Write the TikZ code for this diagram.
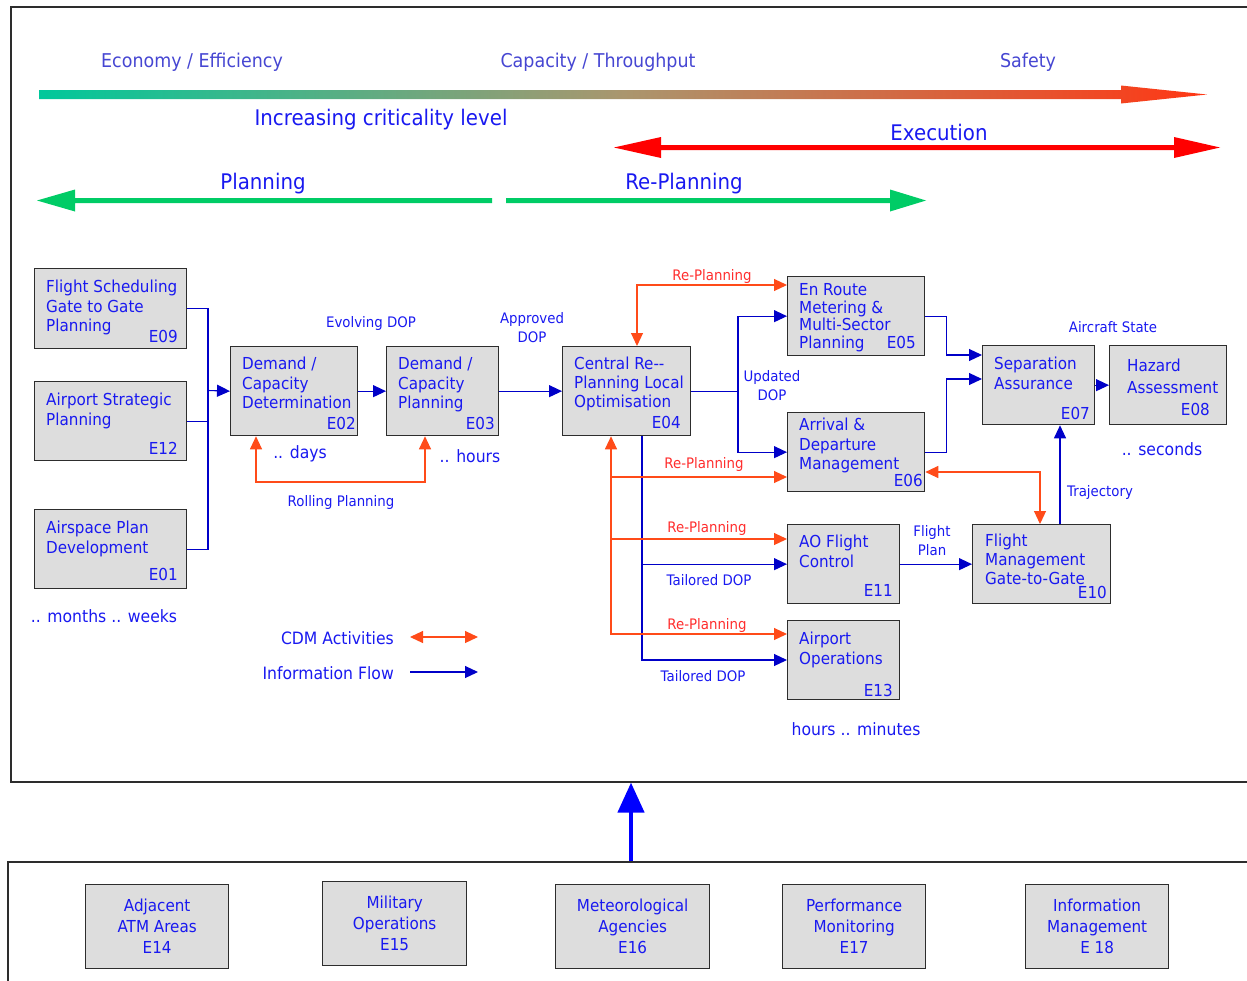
\documentclass[tikz,border=0pt]{standalone}
\usepackage{fontspec}
\setmainfont{DejaVu Sans}[FakeStretch=0.92]
\usetikzlibrary{arrows.meta,calc}

\definecolor{txtblue}{RGB}{25,25,240}
\definecolor{lineblue}{RGB}{0,0,200}
\definecolor{bigblue}{RGB}{0,0,255}
\definecolor{cdmorange}{RGB}{255,75,25}
\definecolor{rpred}{RGB}{255,45,45}
\definecolor{slate}{RGB}{70,70,210}
\definecolor{boxgray}{RGB}{221,221,221}
\definecolor{framegray}{RGB}{45,45,45}
\definecolor{plgreen}{RGB}{0,204,102}
\definecolor{exred}{RGB}{255,0,0}
\definecolor{critA}{RGB}{0,200,155}
\definecolor{critB}{RGB}{170,150,110}
\definecolor{critC}{RGB}{255,55,20}

% the central half of a declared shading is what fills the path
\pgfdeclarehorizontalshading{crit}{100bp}{color(0bp)=(critA); color(25bp)=(critA); color(50bp)=(critB); color(75bp)=(critC); color(100bp)=(critC)}

\newcommand\ebox[5]{\node[ebox, minimum width=#4pt, minimum height=#5pt] (#1) at (#2,#3) {};}

\tikzset{
  ebox/.style={draw=framegray, line width=1.3pt, fill=boxgray, inner sep=0pt, anchor=north west},
  bbox/.style={draw=framegray, line width=1.3pt, fill=boxgray, inner sep=0pt, anchor=north west,
    align=center, text=txtblue, font=\fontsize{16.5}{21}\selectfont},
  btxt/.style={text=txtblue, font=\fontsize{16.5}{19.6}\selectfont, align=left, inner sep=0pt, anchor=north west},
  bid/.style={text=txtblue, font=\fontsize{16.5}{19.6}\selectfont, inner sep=0pt, anchor=base east},
  lbl/.style={text=txtblue, font=\fontsize{14.5}{19}\selectfont, align=center, inner sep=0pt},
  rplbl/.style={text=rpred, font=\fontsize{14.5}{19}\selectfont, inner sep=0pt},
  tlbl/.style={text=txtblue, font=\fontsize{17}{20}\selectfont, inner sep=0pt},
  hlbl/.style={text=slate, font=\fontsize{19}{22}\selectfont, inner sep=0pt},
  blbl/.style={text=txtblue, font=\fontsize{21.5}{24}\selectfont, inner sep=0pt},
  infoline/.style={draw=lineblue, line width=1.1pt},
  info/.style={infoline, -{Triangle[length=13pt,width=12pt]}},
  cdmline/.style={draw=cdmorange, line width=1.1pt},
  cdm/.style={cdmline, -{Triangle[length=13pt,width=12pt]}},
  cdmboth/.style={cdmline, {Triangle[length=13pt,width=12pt]}-{Triangle[length=13pt,width=12pt]}},
  frame/.style={draw=framegray, line width=1.6pt, inner sep=0pt, anchor=north west},
}

\begin{document}
\begin{tikzpicture}[x=1pt,y=-1pt]
\useasboundingbox (0,0) rectangle (1247,980);

% outer frames
\node[frame, minimum width=1270pt, minimum height=775pt] (topframe) at (10,6) {};
\node[frame, minimum width=1270pt, minimum height=140pt] (botframe) at (7,861) {};

% criticality scale
\node[hlbl] (econ) at (192,62) {Economy / Efficiency};
\node[hlbl] (capa) at (598,62) {Capacity / Throughput};
\node[hlbl] (safe) at (1028,62) {Safety};
\shade[shading=crit] (39,90) -- (1121,90) -- (1121,85.5) -- (1207,94.5) -- (1121,103.5) -- (1121,99) -- (39,99) -- cycle;
\node[blbl] (crit) at (381,120) {Increasing criticality level};

% phase arrows
\fill[exred] (614,147.5) -- (661,137) -- (661,145) -- (1174,145) -- (1174,137) -- (1220,147.5)
  -- (1174,158) -- (1174,150) -- (661,150) -- (661,158) -- cycle;
\node[blbl] (exec) at (939,132) {Execution};
\fill[plgreen] (37,200.5) -- (75,189.5) -- (75,198) -- (492,198) -- (492,203) -- (75,203) -- (75,211.5) -- cycle;
\node[blbl] (plan) at (263,184) {Planning};
\fill[plgreen] (506,198) -- (890,198) -- (890,189.5) -- (926,200.5) -- (890,211.5) -- (890,203) -- (506,203) -- cycle;
\node[blbl] (replan) at (684,184) {Re-Planning};

% entity boxes
\ebox{e09}{34}{268}{152}{80}
\ebox{e12}{34}{381}{152}{79}
\ebox{e01}{34}{509}{152}{79}
\ebox{e02}{230}{346}{127}{89}
\ebox{e03}{386}{346}{112}{89}
\ebox{e04}{562}{346}{128}{89}
\ebox{e05}{787}{276}{137}{79}
\ebox{e06}{787}{412}{137}{79}
\ebox{e07}{982}{345}{112}{79}
\ebox{e08}{1109}{345}{117}{79}
\ebox{e11}{787}{524}{112}{79}
\ebox{e10}{972}{524}{138}{79}
\ebox{e13}{787}{620}{112}{79}

\node[btxt] (t09) at (46,280) {Flight Scheduling\\Gate to Gate\\Planning};
\node[bid] (i09) at (178,342) {E09};
\node[btxt] (t12) at (46,393) {Airport Strategic\\Planning};
\node[bid] (i12) at (178,454) {E12};
\node[btxt] (t01) at (46,521) {Airspace Plan\\Development};
\node[bid] (i01) at (178,580) {E01};
\node[btxt] (t02) at (242,357) {Demand /\\Capacity\\Determination};
\node[bid] (i02) at (356,429) {E02};
\node[btxt] (t03) at (398,357) {Demand /\\Capacity\\Planning};
\node[bid] (i03) at (495,429) {E03};
\node[btxt, font=\fontsize{16.5}{19}\selectfont] (t04) at (574,357) {Central Re{-}{-}\\Planning Local\\Optimisation};
\node[bid] (i04) at (681,428) {E04};
\node[btxt, font=\fontsize{16.5}{17.8}\selectfont] (t05) at (799,283) {En Route\\Metering \&\\Multi-Sector\\Planning};
\node[bid] (i05) at (916,348) {E05};
\node[btxt] (t06) at (799,418) {Arrival \&\\Departure\\Management};
\node[bid] (i06) at (923,486) {E06};
\node[btxt] (t07) at (994,357) {Separation\\Assurance};
\node[bid] (i07) at (1090,419) {E07};
\node[btxt, font=\fontsize{16.5}{22}\selectfont] (t08) at (1127,359) {Hazard\\Assessment};
\node[bid] (i08) at (1210,415) {E08};
\node[btxt] (t11) at (799,535) {AO Flight\\Control};
\node[bid] (i11) at (893,596) {E11};
\node[btxt, font=\fontsize{16.5}{18.7}\selectfont] (t10) at (985,534) {Flight\\Management\\Gate-to-Gate};
\node[bid] (i10) at (1107,598) {E10};
\node[btxt] (t13) at (799,632) {Airport\\Operations};
\node[bid] (i13) at (893,696) {E13};

% supporting entities
\node[bbox, minimum width=143pt, minimum height=84pt] (e14) at (85,884) {Adjacent\\ATM Areas\\E14};
\node[bbox, minimum width=144pt, minimum height=84pt] (e15) at (322,881) {Military\\Operations\\E15};
\node[bbox, minimum width=154pt, minimum height=84pt] (e16) at (555,884) {Meteorological\\Agencies\\E16};
\node[bbox, minimum width=143pt, minimum height=84pt] (e17) at (782,884) {Performance\\Monitoring\\E17};
\node[bbox, minimum width=143pt, minimum height=84pt] (e18) at (1025,884) {Information\\Management\\E 18};

% information flow
\coordinate (bus) at (208,390.5);
\draw[infoline] (e09.east) -| (bus) |- (e01.east);
\draw[infoline] (e12.east) -- (e12.east -| bus);
\draw[info] (bus) -- (e02.west);
\draw[info] (e02) -- (e03);
\draw[info] (e03) -- (e04);
\coordinate (upd) at (738,390.5);
\draw[infoline] (e04.east) -- (e04.east -| upd);
\draw[info] (upd) |- (e05.west);
\draw[info] (upd) |- (e06.west);
\draw[info] (e05.east) -- ++(21,0) |- (e07.west |- 0,355);
\draw[info] (e06.east) -- ++(21,0) |- (e07.west |- 0,379);
\draw[info] (e07) -- (e08);
\draw[info] (e10.north -| 1060,0) -- (e07.south -| 1060,0);
\draw[info] (e11) -- (e10);
\draw[info] (e04.south -| 642,0) |- (e11.west);
\draw[info] (e04.south -| 642,0) |- (e13.west |- 0,660);

% CDM activities
\draw[cdmboth] (e04.north -| 637,0) |- (e05.west |- 0,285);
\draw[cdmboth] (e02.south -| 256,0) -- (256,482) -- (425,482) -- (e03.south -| 425,0);
\draw[cdmboth] (e04.south -| 611,0) |- (e13.west |- 0,634);
\draw[cdm] (611,477) -- (e06.west |- 0,477);
\draw[cdm] (611,539) -- (e11.west |- 0,539);
\draw[cdmboth] (e06.east |- 0,472) -| (e10.north -| 1040,0);

% connector labels
\node[lbl] (l1) at (371,323) {Evolving DOP};
\node[lbl] (l2) at (532,328) {Approved\\DOP};
\node[lbl] (l3) at (772,386) {Updated\\DOP};
\node[lbl] (l4) at (1113,327) {Aircraft State};
\node[lbl] (l5) at (341,502) {Rolling Planning};
\node[lbl] (l6) at (1100,492) {Trajectory};
\node[lbl] (l7) at (932,541) {Flight\\Plan};
\node[lbl] (l8) at (709,580) {Tailored DOP};
\node[lbl] (l9) at (703,676) {Tailored DOP};
\node[rplbl] (r1) at (712,276) {Re-Planning};
\node[rplbl] (r2) at (704,464) {Re-Planning};
\node[rplbl] (r3) at (707,528) {Re-Planning};
\node[rplbl] (r4) at (707,625) {Re-Planning};

% time horizons
\node[tlbl] (h1) at (300,454) {.. days};
\node[tlbl] (h2) at (470,456) {.. hours};
\node[tlbl] (h3) at (104,616) {.. months .. weeks};
\node[tlbl] (h4) at (1162,449) {.. seconds};
\node[tlbl] (h5) at (856,729) {hours .. minutes};

% legend
\node[tlbl, anchor=east] (lg1) at (394,638) {CDM Activities};
\node[tlbl, anchor=east] (lg2) at (394,673) {Information Flow};
\coordinate (lgA1) at (410,637);
\coordinate (lgA2) at (478,637);
\coordinate (lgB1) at (410,672);
\coordinate (lgB2) at (478,672);
\draw[cdmboth] (lgA1) -- (lgA2);
\draw[info] (lgB1) -- (lgB2);

% supporting entities feed the ATM layer
\draw[bigblue, line width=4.5pt, -{Triangle[length=30pt,width=26pt]}] (botframe.north -| 631,0) -- (topframe.south -| 631,0);
\end{tikzpicture}
\end{document}
